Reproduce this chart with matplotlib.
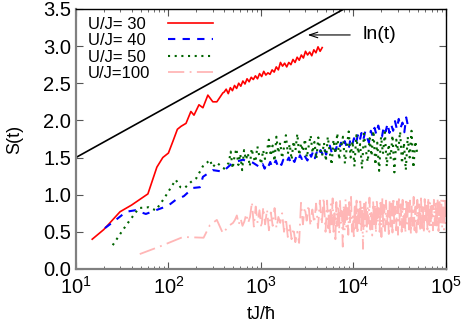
import numpy as np
import matplotlib
matplotlib.use("Agg")
import matplotlib.pyplot as plt

plt.rcParams['font.family'] = ['Liberation Sans', 'DejaVu Sans']
plt.rcParams['mathtext.fontset'] = 'custom'
plt.rcParams['mathtext.rm'] = 'Liberation Sans'

# ---- data ----
labels = ['U/J= 30', 'U/J= 40', 'U/J= 50', 'U/J=100']

# U/J = 30
t30_early = [15, 20, 30, 40, 60, 75, 87, 100, 112, 125, 137, 155, 175, 189, 214, 236, 267, 302, 334, 388]
s30_early = [0.40, 0.53, 0.77, 0.86, 1.01, 1.37, 1.50, 1.56, 1.72, 1.88, 1.92, 1.96, 2.12, 2.07, 2.21,
             2.17, 2.34, 2.25, 2.25, 2.37]
t30_late_range = (400, 4600)
s30_late = [2.38, 2.42, 2.36, 2.44, 2.40, 2.47, 2.43, 2.50, 2.46, 2.53, 2.49, 2.56, 2.52, 2.58, 2.55, 2.60,
            2.56, 2.63, 2.59, 2.66, 2.61, 2.64, 2.62, 2.68, 2.65, 2.72, 2.68, 2.78, 2.73, 2.77, 2.72, 2.78,
            2.75, 2.82, 2.78, 2.85, 2.81, 2.88, 2.84, 2.93, 2.88, 2.92, 2.87, 2.95, 2.91, 2.99, 2.93, 2.98]

# U/J = 40
t40_early = [20.6, 27, 35, 44, 57, 73, 99, 120, 147, 184, 219, 236, 302, 388, 497, 638, 820]
s40_early = [0.55, 0.66, 0.77, 0.79, 0.74, 0.79, 0.85, 0.93, 0.98, 1.09, 1.10, 1.24, 1.33, 1.31, 1.43,
             1.47, 1.43]
t40_late_range = (1000, 39000)
s40_late = [1.36, 1.41, 1.35, 1.42, 1.38, 1.44, 1.37, 1.41, 1.46, 1.39,
            1.44, 1.40, 1.47, 1.42, 1.45, 1.50, 1.43, 1.48, 1.44, 1.51,
            1.46, 1.53, 1.48, 1.55, 1.50, 1.46, 1.56, 1.51, 1.58, 1.49,
            1.57, 1.52, 1.60, 1.55, 1.63, 1.54, 1.61, 1.66, 1.57, 1.64,
            1.59, 1.67, 1.62, 1.70, 1.63, 1.72, 1.65, 1.60, 1.74, 1.67,
            1.76, 1.68, 1.80, 1.72, 1.83, 1.74, 1.85, 1.77, 1.70, 1.86,
            1.79, 1.90, 1.81, 1.93, 1.84, 1.78, 1.92, 1.85, 1.96, 1.83,
            1.94, 1.86, 1.99, 1.88, 2.02, 1.90, 1.97, 1.84, 2.04, 1.92]

# U/J = 50
t50_early = [25, 32, 37, 48, 61, 73, 90, 120, 135, 150, 175, 200, 240, 261, 281, 300, 334, 400]
s50_early = [0.32, 0.52, 0.63, 0.82, 0.83, 0.79, 0.95, 1.20, 1.10, 1.09, 1.17, 1.22, 1.40, 1.43, 1.47,
             1.37, 1.43, 1.35]
t50_late_range = (450, 49000)
s50_late = [1.43, 1.58, 1.35, 1.52, 1.62, 1.40, 1.55, 1.33, 1.60, 1.47,
            1.56, 1.38, 1.62, 1.50, 1.44, 1.65, 1.52, 1.41, 1.60, 1.48,
            1.58, 1.74, 1.52, 1.66, 1.45, 1.78, 1.56, 1.70, 1.49, 1.64,
            1.80, 1.55, 1.68, 1.47, 1.72, 1.60, 1.82, 1.53, 1.69, 1.58,
            1.75, 1.50, 1.66, 1.80, 1.56, 1.71, 1.48, 1.77, 1.62, 1.52,
            1.70, 1.45, 1.78, 1.58, 1.40, 1.74, 1.55, 1.83, 1.47, 1.66,
            1.78, 1.42, 1.64, 1.85, 1.50, 1.72, 1.38, 1.80, 1.55, 1.68,
            1.35, 1.82, 1.60, 1.44, 1.76, 1.52, 1.86, 1.40, 1.70, 1.32,
            1.78, 1.55, 1.84, 1.38, 1.68, 1.48, 1.80, 1.30, 1.74, 1.58,
            1.85, 1.42, 1.70, 1.33, 1.78, 1.50, 1.86, 1.36, 1.72, 1.56]

# U/J = 100
t100_early = [49, 80, 144, 240, 281, 334, 388, 450]
s100_early = [0.20, 0.30, 0.43, 0.42, 0.59, 0.66, 0.48, 0.58]
t100_mid_range = (500, 5000)
s100_mid = [0.62, 0.66, 0.72, 0.60, 0.68, 0.58, 0.64, 0.74, 0.62, 0.70,
            0.90, 0.57, 0.84, 0.62, 0.79, 0.55, 0.83, 0.60, 0.80, 0.52,
            0.76, 0.58, 0.82, 0.55, 0.70, 0.62, 0.75, 0.50, 0.68, 0.43,
            0.60, 0.40, 0.55, 0.36, 0.50, 0.35, 0.89, 0.60, 0.83, 0.65,
            0.86, 0.58, 0.80, 0.62, 0.88, 0.55, 0.92, 0.60, 0.96, 0.50]
t100_late_range = (5200, 100000)
s100_late = [0.92, 0.55, 0.80, 0.45, 0.88, 0.60, 0.95, 0.50, 0.75, 0.40,
             0.90, 0.58, 0.85, 0.48, 0.93, 0.62, 0.78, 0.30, 0.86, 0.52,
             0.94, 0.57, 0.82, 0.46, 0.90, 0.63, 0.97, 0.50, 0.72, 0.44,
             0.88, 0.55, 0.92, 0.47, 0.80, 0.60, 0.95, 0.52, 0.85, 0.27,
             0.90, 0.58, 0.93, 0.49, 0.84, 0.61, 0.96, 0.53, 0.78, 0.45,
             0.91, 0.56, 0.87, 0.48, 0.94, 0.62, 0.82, 0.50, 0.89, 0.43,
             0.95, 0.57, 0.86, 0.51, 0.92, 0.60, 0.80, 0.47, 0.93, 0.55,
             0.88, 0.49, 0.96, 0.58, 0.84, 0.52, 0.91, 0.46, 0.94, 0.59,
             0.87, 0.50, 0.93, 0.56, 0.82, 0.48, 0.95, 0.61, 0.89, 0.53,
             0.92, 0.47, 0.86, 0.58, 0.97, 0.52, 0.84, 0.49, 0.93, 0.60,
             0.90, 0.51, 0.95, 0.55, 0.87, 0.48, 0.94, 0.62, 0.88, 0.53,
             0.96, 0.50, 0.91, 0.57, 0.85, 0.52, 0.93, 0.59, 0.89, 0.54,
             0.95, 0.51, 0.90, 0.58, 0.94, 0.55, 0.92, 0.53, 0.96, 0.60]

# reference ln(t) line (straight on the log axis)
t_ref = [10, 10000]
s_ref = [1.5, 3.57]


def join(t_early, s_early, t_range, s_late):
    t_late = np.geomspace(t_range[0], t_range[1], len(s_late))
    return np.concatenate([t_early, t_late]), np.concatenate([s_early, s_late])


t30, s30 = join(t30_early, s30_early, t30_late_range, s30_late)
t40, s40 = join(t40_early, s40_early, t40_late_range, s40_late)
t50, s50 = join(t50_early, s50_early, t50_late_range, s50_late)
t100, s100 = join(t100_early, s100_early, t100_mid_range, s100_mid)
t100, s100 = join(t100, s100, t100_late_range, s100_late)

fig = plt.figure(figsize=(4.63, 3.32), dpi=100)
ax = fig.add_axes([0.164, 0.190, 0.799, 0.783])

ax.plot(t30, s30, color='#ff0000', lw=1.2, label=labels[0])
ax.plot(t40, s40, color='#0000ff', lw=1.5, ls=(0, (3.5, 3.5)), label=labels[1])
ax.plot(t50, s50, color='#006400', lw=1.5, ls=(0, (1, 2.2)), label=labels[2])
ax.plot(t100, s100, color='#ffb6b6', lw=1.3, ls=(0, (9, 3, 1, 3)), label=labels[3])
ax.plot(t_ref, s_ref, color='black', lw=1.2)

ax.annotate('', xy=(2990, 3.15), xytext=(9900, 3.15),
            arrowprops=dict(arrowstyle='->,head_length=0.6,head_width=0.2', color='black', lw=0.8))
ax.text(12600, 3.15, 'ln(t)', fontsize=14, va='center', ha='left')

ax.set_xscale('log')
ax.set_xlim(10, 1e5)
ax.set_ylim(0, 3.5)
ax.set_yticks(np.arange(0, 3.51, 0.5))
ax.set_yticklabels([f'{v:.1f}' for v in np.arange(0, 3.51, 0.5)])
ax.set_xlabel('tJ/ħ', fontsize=13, labelpad=6)
ax.set_ylabel('S(t)', fontsize=13, labelpad=14)

ax.tick_params(which='both', direction='in', top=True, right=True, labelsize=14.5, color='#555555')
ax.tick_params(which='major', length=5, width=0.8)
ax.tick_params(which='minor', length=2.5, width=0.6)
ax.tick_params(axis='x', pad=5)
for side in ['left', 'bottom']:
    ax.spines[side].set_color('#808080')
    ax.spines[side].set_linewidth(1.6)
for side in ['top', 'right']:
    ax.spines[side].set_color('black')
    ax.spines[side].set_linewidth(1.0)

leg = ax.legend(loc='upper left', frameon=False, fontsize=12, markerfirst=False,
                handlelength=2.7, handletextpad=1.05, labelspacing=0.08,
                borderaxespad=0.0, bbox_to_anchor=(0.0143, 0.995))

# gnuplot style: labels left aligned, samples in one column -> widen the gap for narrower labels
fig.canvas.draw()
renderer = fig.canvas.get_renderer()
widths = [txt.get_window_extent(renderer).width for txt in leg.get_texts()]
w_max = max(widths)
entries = [e for col in leg._legend_handle_box.get_children() for e in col.get_children()]
for entry, w in zip(entries, widths):
    entry.sep += (w_max - w) * 72.0 / fig.dpi

fig.savefig('out.png', dpi=100)
